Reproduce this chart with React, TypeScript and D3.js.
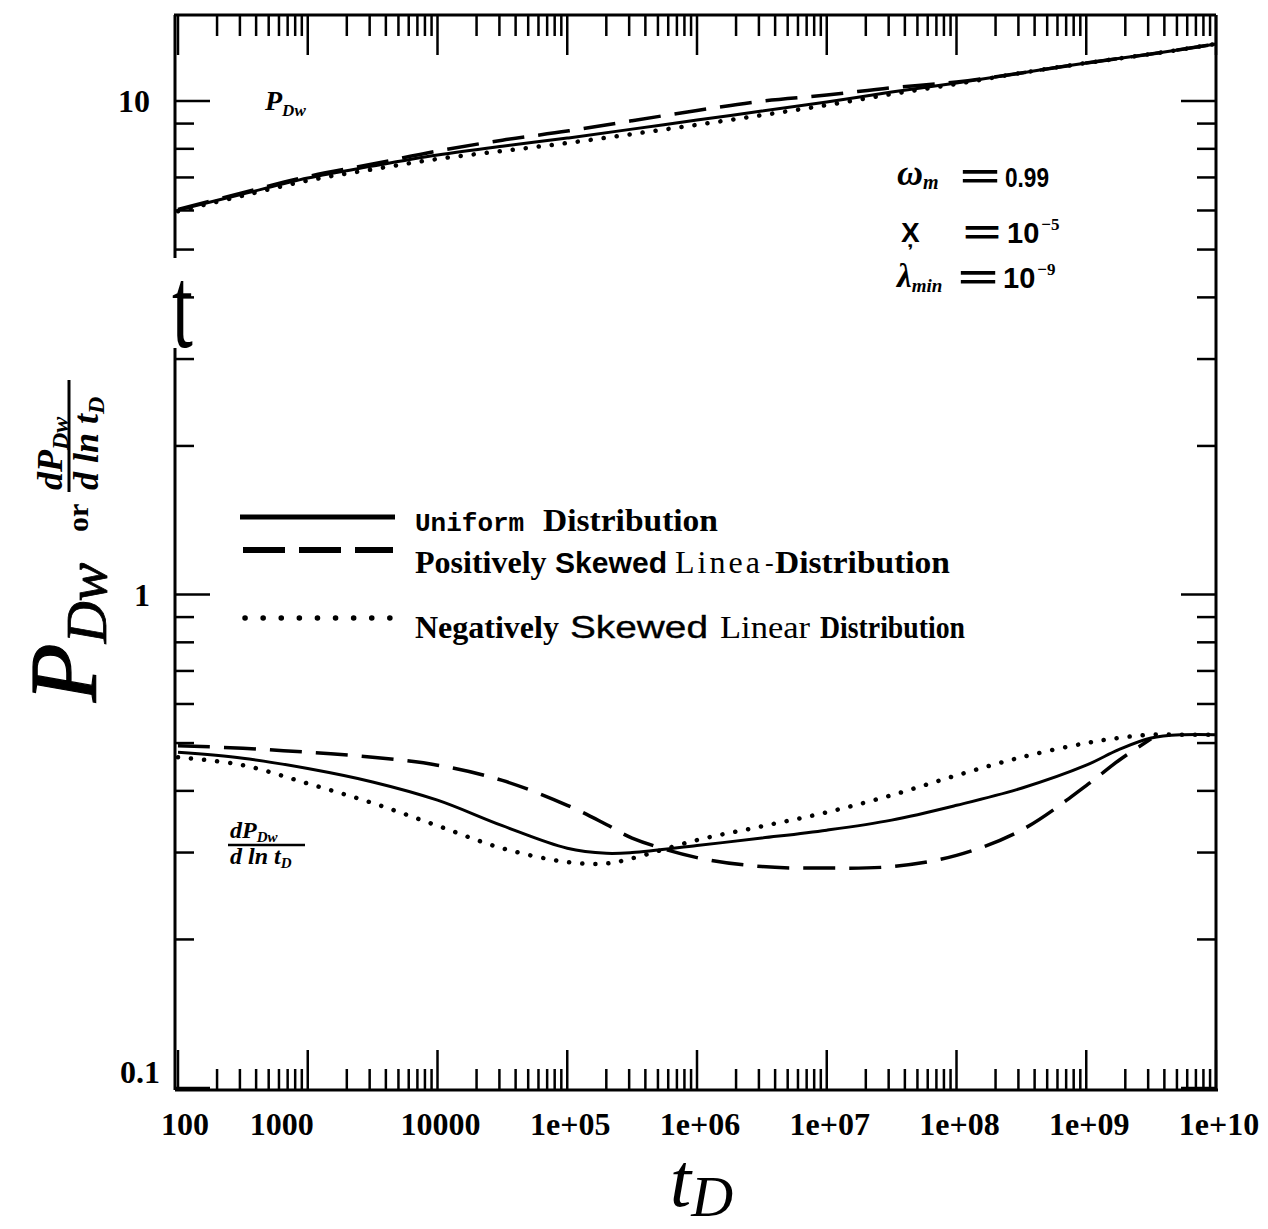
import React from "react";
import * as d3 from "d3";

// ---------- data ----------
const xTickValues = [1e2, 1e3, 1e4, 1e5, 1e6, 1e7, 1e8, 1e9, 1e10];
const xTickLabels = ["100", "1000", "10000", "1e+05", "1e+06", "1e+07", "1e+08", "1e+09", "1e+10"];
const yTickValues = [0.1, 1, 10];
const yTickLabels = ["0.1", "1", "10"];

// pressure curves (upper group)
const pT = [1e2, 3.16e2, 1e3, 3.16e3, 1e4, 3.16e4, 1e5, 3.16e5, 1e6, 3.16e6, 1e7, 3.16e7, 1e8, 3.16e8, 1e9, 3.16e9, 1e10];
const pUniform = [6.01, 6.48, 6.98, 7.38, 7.77, 8.1, 8.41, 8.77, 9.15, 9.54, 9.95, 10.43, 10.88, 11.4, 11.94, 12.45, 13.05];
const pPositive = [6.03, 6.52, 7.03, 7.45, 7.92, 8.33, 8.69, 9.12, 9.57, 9.99, 10.28, 10.64, 10.93, 11.4, 11.94, 12.45, 13.05];
const pNegative = [5.98, 6.43, 6.9, 7.27, 7.63, 7.92, 8.22, 8.57, 8.95, 9.36, 9.81, 10.33, 10.83, 11.4, 11.94, 12.45, 13.05];

// derivative curves (lower group)
const dT = [1e2, 3.16e2, 1e3, 3.16e3, 1e4, 3.16e4, 1e5, 2e5, 3.16e5, 1e6, 3.16e6, 1e7, 3.16e7, 1e8, 3.16e8, 1e9, 1.78e9, 3.16e9, 5.62e9, 1e10];
const dUniform = [0.479, 0.466, 0.444, 0.417, 0.383, 0.34, 0.306, 0.299, 0.3, 0.31, 0.321, 0.333, 0.349, 0.374, 0.405, 0.451, 0.485, 0.512, 0.52, 0.52];
const dPositive = [0.494, 0.488, 0.479, 0.468, 0.451, 0.42, 0.374, 0.342, 0.321, 0.293, 0.281, 0.279, 0.281, 0.296, 0.333, 0.41, 0.461, 0.51];
const dNegative = [0.468, 0.451, 0.414, 0.378, 0.34, 0.306, 0.287, 0.285, 0.292, 0.318, 0.339, 0.362, 0.392, 0.43, 0.468, 0.5, 0.512, 0.52, 0.52, 0.52];

const legendLabels = ["Uniform Distribution", "Positively Skewed Linear Distribution", "Negatively Skewed Linear Distribution"];

// ---------- layout ----------
const W = 1268;
const H = 1229;
const TOP = 15;
const x = d3.scaleLog().domain([1e2, 1e10]).range([178, 1216]);
const y = d3.scaleLog().domain([0.1, 10]).range([1088, 101]);
const X0 = x.range()[0];
const X1 = x.range()[1];
const YB = y(0.1);

const SERIF = "'Liberation Serif', 'Times New Roman', serif";
const SANS = "'Liberation Sans', Arial, sans-serif";
const MONO = "'Liberation Mono', 'Courier New', monospace";

const line = d3
  .line<[number, number]>()
  .x((d) => x(d[0]))
  .y((d) => y(d[1]))
  .curve(d3.curveCatmullRom.alpha(0.5));

const zip = (ts: number[], vs: number[]) => vs.map((v, i) => [ts[i], v] as [number, number]);

const SOLID = { stroke: "#000", strokeWidth: 3, fill: "none" };
const DASHED = { stroke: "#000", strokeWidth: 3.5, fill: "none", strokeDasharray: "32,14" };
const DOTTED = { stroke: "#000", strokeWidth: 4.5, fill: "none", strokeDasharray: "0.1,13", strokeLinecap: "round" as const };

function minorTicks(lo: number, hi: number) {
  const out: { v: number; major: boolean }[] = [];
  for (let e = lo; e < hi; e++) {
    for (let m = 1; m <= 9; m++) out.push({ v: m * Math.pow(10, e), major: m === 1 });
  }
  out.push({ v: Math.pow(10, hi), major: true });
  return out;
}

export default function App() {
  const xt = minorTicks(2, 10);
  const yt = minorTicks(-1, 1).filter((t) => y(t.v) >= TOP);

  return (
    <svg width={W} height={H} style={{ position: "absolute", left: 0, top: 0, background: "#fff" }}>
      <rect x={0} y={0} width={W} height={H} fill="#fff" />

      {/* curves */}
      <path d={line(zip(pT, pUniform)) || ""} {...SOLID} />
      <path d={line(zip(pT, pPositive)) || ""} {...DASHED} />
      <path d={line(zip(pT, pNegative)) || ""} {...DOTTED} />
      <path d={line(zip(dT, dUniform)) || ""} {...SOLID} />
      <path d={line(zip(dT, dPositive)) || ""} {...DASHED} />
      <path d={line(zip(dT, dNegative)) || ""} {...DOTTED} />

      {/* axes frame */}
      <g stroke="#000" strokeWidth={3} fill="none">
        <line x1={X0 - 4} y1={TOP} x2={X1} y2={TOP} />
        <line x1={X0 - 3} y1={YB + 2} x2={X1 + 2} y2={YB + 2} />
        <line x1={X0 - 3} y1={TOP} x2={X0 - 3} y2={YB + 2} />
        <line x1={X1} y1={TOP} x2={X1} y2={YB + 2} />
      </g>

      {/* x ticks */}
      <g stroke="#000" strokeWidth={2.5}>
        {xt.map((t, i) => {
          const len = t.major ? 40 : 21;
          const xx = x(t.v);
          return (
            <g key={i}>
              <line x1={xx} y1={TOP} x2={xx} y2={TOP + len} />
              <line x1={xx} y1={YB + 2} x2={xx} y2={YB + 2 - len} />
            </g>
          );
        })}
      </g>
      {/* y ticks */}
      <g stroke="#000" strokeWidth={2.5}>
        {yt.map((t, i) => {
          const len = t.major ? 35 : 19;
          const yy = y(t.v);
          return (
            <g key={i}>
              <line x1={X0 - 3} y1={yy} x2={X0 - 3 + len} y2={yy} />
              <line x1={X1} y1={yy} x2={X1 - len} y2={yy} />
            </g>
          );
        })}
      </g>

      {/* scan artefact "t" breaking left axis */}
      <rect x={X0 - 8} y={258} width={12} height={90} fill="#fff" />
      <text
        x={0}
        y={0}
        transform={`translate(${X0 - 6},347) scale(0.72,1.12)`}
        fontFamily={SERIF}
        fontSize={104}
        fill="#000"
      >
        t
      </text>

      {/* tick labels */}
      <g fontFamily={SERIF} fontWeight="bold" fontSize={32} fill="#000">
        {xTickValues.map((v, i) => {
          const nudge = i === 0 ? 7 : i === 1 ? -26 : 3;
          return (
            <text key={v} x={x(v) + nudge} y={1135} textAnchor="middle">
              {xTickLabels[i]}
            </text>
          );
        })}
        {yTickValues.map((v, i) => (
          <text key={v} x={i === 0 ? 160 : 150} y={i === 0 ? y(v) - 5 : y(v) + 11} textAnchor="end">
            {yTickLabels[i]}
          </text>
        ))}
      </g>

      {/* axis titles */}
      <g transform="translate(96,702) rotate(-90)" fill="#000" fontFamily={SERIF}>
        <text x={0} y={0} fontStyle="italic" fontSize={96} stroke="#000" strokeWidth={1.2}>
          P
          <tspan fontSize={58} dy={10} strokeWidth={0.8}>Dw</tspan>
        </text>
        <text x={170} y={-8} fontSize={30} fontWeight="bold">or</text>
        <text x={212} y={-34} fontStyle="italic" fontWeight="bold" fontSize={36}>
          dP
          <tspan fontSize={24} dy={6}>Dw</tspan>
        </text>
        <line x1={210} y1={-27} x2={322} y2={-27} stroke="#000" strokeWidth={3} />
        <text x={212} y={2} fontStyle="italic" fontWeight="bold" fontSize={36}>
          d ln t
          <tspan fontSize={24} dy={6}>D</tspan>
        </text>
      </g>
      <text x={670} y={1206} fontFamily={SERIF} fontStyle="italic" fill="#000" fontSize={76}>
        t<tspan fontSize={58} dy={10}>D</tspan>
      </text>

      {/* annotations */}
      <text x={265} y={110} fontFamily={SERIF} fontStyle="italic" fontWeight="bold" fontSize={28} fill="#000">
        P<tspan fontSize={17} dy={6}>Dw</tspan>
      </text>
      <g fill="#000" fontWeight="bold">
        <text x={897} y={185} fontFamily={SERIF} fontStyle="italic" fontSize={36}>
          ω<tspan fontSize={20} dy={4}>m</tspan>
        </text>
        <text x={960} y={188} fontFamily={SANS} fontSize={34} textLength={40} lengthAdjust="spacingAndGlyphs">=</text>
        <text x={1005} y={187} fontFamily={SANS} fontSize={28} textLength={44} lengthAdjust="spacingAndGlyphs">0.99</text>

        <text x={901} y={242} fontFamily={SANS} fontSize={28}>{"X\u0326"}</text>
        <text x={963} y={244} fontFamily={SANS} fontSize={34} textLength={38} lengthAdjust="spacingAndGlyphs">=</text>
        <text x={1007} y={243} fontFamily={SANS} fontSize={29}>
          10<tspan fontFamily={SERIF} fontSize={17} dx={2} dy={-13}>−5</tspan>
        </text>

        <text x={897} y={287} fontFamily={SERIF} fontStyle="italic" fontSize={33}>
          λ<tspan fontSize={19} dy={5}>min</tspan>
        </text>
        <text x={958} y={289} fontFamily={SANS} fontSize={34} textLength={40} lengthAdjust="spacingAndGlyphs">=</text>
        <text x={1003} y={288} fontFamily={SANS} fontSize={29}>
          10<tspan fontFamily={SERIF} fontSize={17} dx={2} dy={-13}>−9</tspan>
        </text>
      </g>

      {/* derivative label */}
      <g fill="#000" fontFamily={SERIF} fontStyle="italic" fontWeight="bold">
        <text x={230} y={838} fontSize={24}>
          dP<tspan fontSize={15} dy={4}>Dw</tspan>
        </text>
        <line x1={228} y1={845} x2={305} y2={845} stroke="#000" strokeWidth={2.5} />
        <text x={230} y={864} fontSize={24}>
          d ln t<tspan fontSize={15} dy={4}>D</tspan>
        </text>
      </g>

      {/* legend */}
      <line x1={240} y1={517} x2={395} y2={517} stroke="#000" strokeWidth={5} />
      <line x1={243} y1={550} x2={393} y2={550} stroke="#000" strokeWidth={6} strokeDasharray="42,14" />
      <line x1={245} y1={618} x2={390} y2={618} stroke="#000" strokeWidth={5.5} strokeDasharray="0.1,18" strokeLinecap="round" />
      <g fill="#000" aria-label={legendLabels.join("; ")}>
        <text x={415} y={531} fontFamily={MONO} fontWeight="bold" fontSize={26}>Uniform</text>
        <text x={543} y={531} fontFamily={SERIF} fontWeight="bold" fontSize={32} textLength={175} lengthAdjust="spacingAndGlyphs">Distribution</text>

        <text x={415} y={573} fontFamily={SERIF} fontWeight="bold" fontSize={32}>Positively</text>
        <text x={555} y={573} fontFamily={SANS} fontWeight="bold" fontSize={29} textLength={112} lengthAdjust="spacingAndGlyphs">Skewed</text>
        <text x={675} y={573} fontFamily={SERIF} fontSize={32} letterSpacing={3}>Linea</text>
        <text x={765} y={571} fontFamily={SERIF} fontSize={26}>-</text>
        <text x={775} y={573} fontFamily={SERIF} fontWeight="bold" fontSize={32} textLength={175} lengthAdjust="spacingAndGlyphs">Distribution</text>

        <text x={415} y={638} fontFamily={SERIF} fontWeight="bold" fontSize={32}>Negatively</text>
        <text x={570} y={638} fontFamily={SANS} fontSize={31} stroke="#000" strokeWidth={0.35} textLength={138} lengthAdjust="spacingAndGlyphs">Skewed</text>
        <text x={720} y={638} fontFamily={SERIF} fontSize={32} textLength={90} lengthAdjust="spacingAndGlyphs">Linear</text>
        <text x={820} y={638} fontFamily={SERIF} fontWeight="bold" fontSize={32} textLength={145} lengthAdjust="spacingAndGlyphs">Distribution</text>
      </g>
    </svg>
  );
}
